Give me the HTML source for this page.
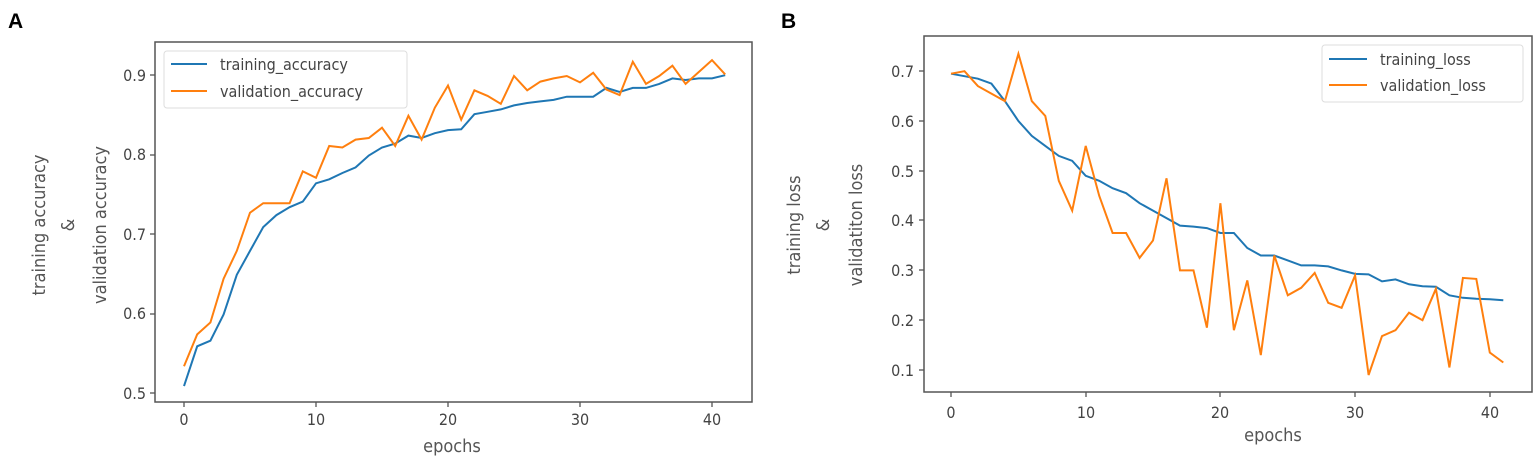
<!DOCTYPE html>
<html><head><meta charset="utf-8"><style>
body{margin:0;background:#fff;}
svg{display:block;font-family:"DejaVu Sans Condensed","DejaVu Sans","Liberation Sans",sans-serif;}
.t{fill:#444;font-size:16px;}
.l{fill:#555;font-size:18px;}
.k{stroke:#555;stroke-width:1.3;}
</style></head><body>
<svg id="s" width="1535" height="464" viewBox="0 0 1535 464">
<rect width="1535" height="464" fill="#fff"/>
<text x="8" y="28" font-family="Liberation Sans" font-weight="bold" font-size="21" fill="#000">A</text>
<text x="781" y="28" font-family="Liberation Sans" font-weight="bold" font-size="21" fill="#000">B</text>
<!-- Panel A -->
<rect x="155" y="42" width="597" height="360" fill="none" stroke="#555" stroke-width="1.5"/>
<g class="k">
<line x1="150" y1="75" x2="155" y2="75"/><line x1="150" y1="155" x2="155" y2="155"/><line x1="150" y1="234" x2="155" y2="234"/><line x1="150" y1="314" x2="155" y2="314"/><line x1="150" y1="393" x2="155" y2="393"/>
<line x1="184" y1="402" x2="184" y2="407"/><line x1="316" y1="402" x2="316" y2="407"/><line x1="448" y1="402" x2="448" y2="407"/><line x1="580" y1="402" x2="580" y2="407"/><line x1="712" y1="402" x2="712" y2="407"/>
</g>
<g class="t" text-anchor="end">
<text x="146" y="81">0.9</text><text x="146" y="160">0.8</text><text x="146" y="240">0.7</text><text x="146" y="319">0.6</text><text x="146" y="399">0.5</text>
</g>
<g class="t" text-anchor="middle">
<text x="184" y="425">0</text><text x="316" y="425">10</text><text x="448" y="425">20</text><text x="580" y="425">30</text><text x="712" y="425">40</text>
</g>
<text class="l" x="452" y="452" text-anchor="middle">epochs</text>
<text class="l" transform="translate(45,225) rotate(-90)" text-anchor="middle">training accuracy</text>
<text class="l" transform="translate(74,225) rotate(-90)" text-anchor="middle">&amp;</text>
<text class="l" transform="translate(106,225) rotate(-90)" text-anchor="middle">validation accuracy</text>
<g id="ga"></g>
<rect x="164" y="51" width="243" height="57" fill="#fff" fill-opacity="0.85" stroke="#ddd" rx="3"/>
<line x1="171" y1="64" x2="207" y2="64" stroke="#1f77b4" stroke-width="2"/>
<line x1="171" y1="91" x2="207" y2="91" stroke="#ff7f0e" stroke-width="2"/>
<text class="t" x="220" y="70">training_accuracy</text>
<text class="t" x="220" y="97">validation_accuracy</text>
<!-- Panel B -->
<rect x="924" y="36" width="608" height="356" fill="none" stroke="#555" stroke-width="1.5"/>
<g class="k">
<line x1="919" y1="71" x2="924" y2="71"/><line x1="919" y1="121" x2="924" y2="121"/><line x1="919" y1="171" x2="924" y2="171"/><line x1="919" y1="220" x2="924" y2="220"/><line x1="919" y1="270" x2="924" y2="270"/><line x1="919" y1="320" x2="924" y2="320"/><line x1="919" y1="370" x2="924" y2="370"/>
<line x1="951" y1="392" x2="951" y2="397"/><line x1="1086" y1="392" x2="1086" y2="397"/><line x1="1220" y1="392" x2="1220" y2="397"/><line x1="1355" y1="392" x2="1355" y2="397"/><line x1="1490" y1="392" x2="1490" y2="397"/>
</g>
<g class="t" text-anchor="end">
<text x="914" y="77">0.7</text><text x="914" y="127">0.6</text><text x="914" y="177">0.5</text><text x="914" y="226">0.4</text><text x="914" y="276">0.3</text><text x="914" y="326">0.2</text><text x="914" y="376">0.1</text>
</g>
<g class="t" text-anchor="middle">
<text x="951" y="418">0</text><text x="1086" y="418">10</text><text x="1220" y="418">20</text><text x="1355" y="418">30</text><text x="1490" y="418">40</text>
</g>
<text class="l" x="1273" y="441" text-anchor="middle">epochs</text>
<text class="l" transform="translate(800,225) rotate(-90)" text-anchor="middle">training loss</text>
<text class="l" transform="translate(829,225) rotate(-90)" text-anchor="middle">&amp;</text>
<text class="l" transform="translate(862,225) rotate(-90)" text-anchor="middle">validatiton loss</text>
<g id="gb"></g>
<rect x="1322" y="45" width="201" height="57" fill="#fff" fill-opacity="0.85" stroke="#ddd" rx="3"/>
<line x1="1329" y1="59" x2="1367" y2="59" stroke="#1f77b4" stroke-width="2"/>
<line x1="1329" y1="85" x2="1367" y2="85" stroke="#ff7f0e" stroke-width="2"/>
<text class="t" x="1380" y="65">training_loss</text>
<text class="t" x="1380" y="91">validation_loss</text>
</svg>
<script>
var ta=[0.51,0.56,0.567,0.60,0.65,0.68,0.71,0.725,0.735,0.742,0.765,0.77,0.778,0.785,0.80,0.81,0.815,0.825,0.822,0.828,0.832,0.833,0.852,0.855,0.858,0.863,0.866,0.868,0.87,0.874,0.874,0.874,0.885,0.88,0.885,0.885,0.89,0.897,0.895,0.897,0.897,0.901];
var va=[0.535,0.575,0.59,0.645,0.68,0.728,0.74,0.74,0.74,0.78,0.772,0.812,0.81,0.82,0.822,0.835,0.812,0.85,0.82,0.86,0.888,0.845,0.882,0.875,0.865,0.9,0.882,0.893,0.897,0.9,0.892,0.904,0.883,0.876,0.918,0.89,0.9,0.913,0.89,0.905,0.92,0.902];
var tl=[0.695,0.69,0.685,0.675,0.64,0.60,0.57,0.55,0.53,0.52,0.49,0.48,0.465,0.455,0.435,0.42,0.405,0.39,0.388,0.385,0.375,0.375,0.345,0.33,0.33,0.32,0.31,0.31,0.308,0.30,0.293,0.292,0.278,0.282,0.272,0.268,0.267,0.25,0.245,0.243,0.242,0.24];
var vl=[0.695,0.70,0.67,0.655,0.64,0.735,0.64,0.61,0.48,0.42,0.55,0.45,0.375,0.375,0.325,0.36,0.485,0.30,0.30,0.185,0.435,0.18,0.28,0.13,0.33,0.25,0.265,0.295,0.235,0.225,0.29,0.09,0.168,0.18,0.215,0.20,0.263,0.105,0.285,0.283,0.135,0.115];
function pl(g,d,x0,dx,y0,v0,dy,c){var p=d.map(function(v,i){return (x0+i*dx).toFixed(1)+","+(y0-(v-v0)*dy).toFixed(1)}).join(" ");
var e=document.createElementNS("http://www.w3.org/2000/svg","polyline");e.setAttribute("points",p);e.setAttribute("fill","none");e.setAttribute("stroke",c);e.setAttribute("stroke-width","2");document.getElementById(g).appendChild(e);}
pl("ga",ta,184,13.2,394,0.5,795,"#1f77b4");
pl("ga",va,184,13.2,394,0.5,795,"#ff7f0e");
pl("gb",tl,951,13.47,370,0.1,498,"#1f77b4");
pl("gb",vl,951,13.47,370,0.1,498,"#ff7f0e");
</script>
</body></html>
